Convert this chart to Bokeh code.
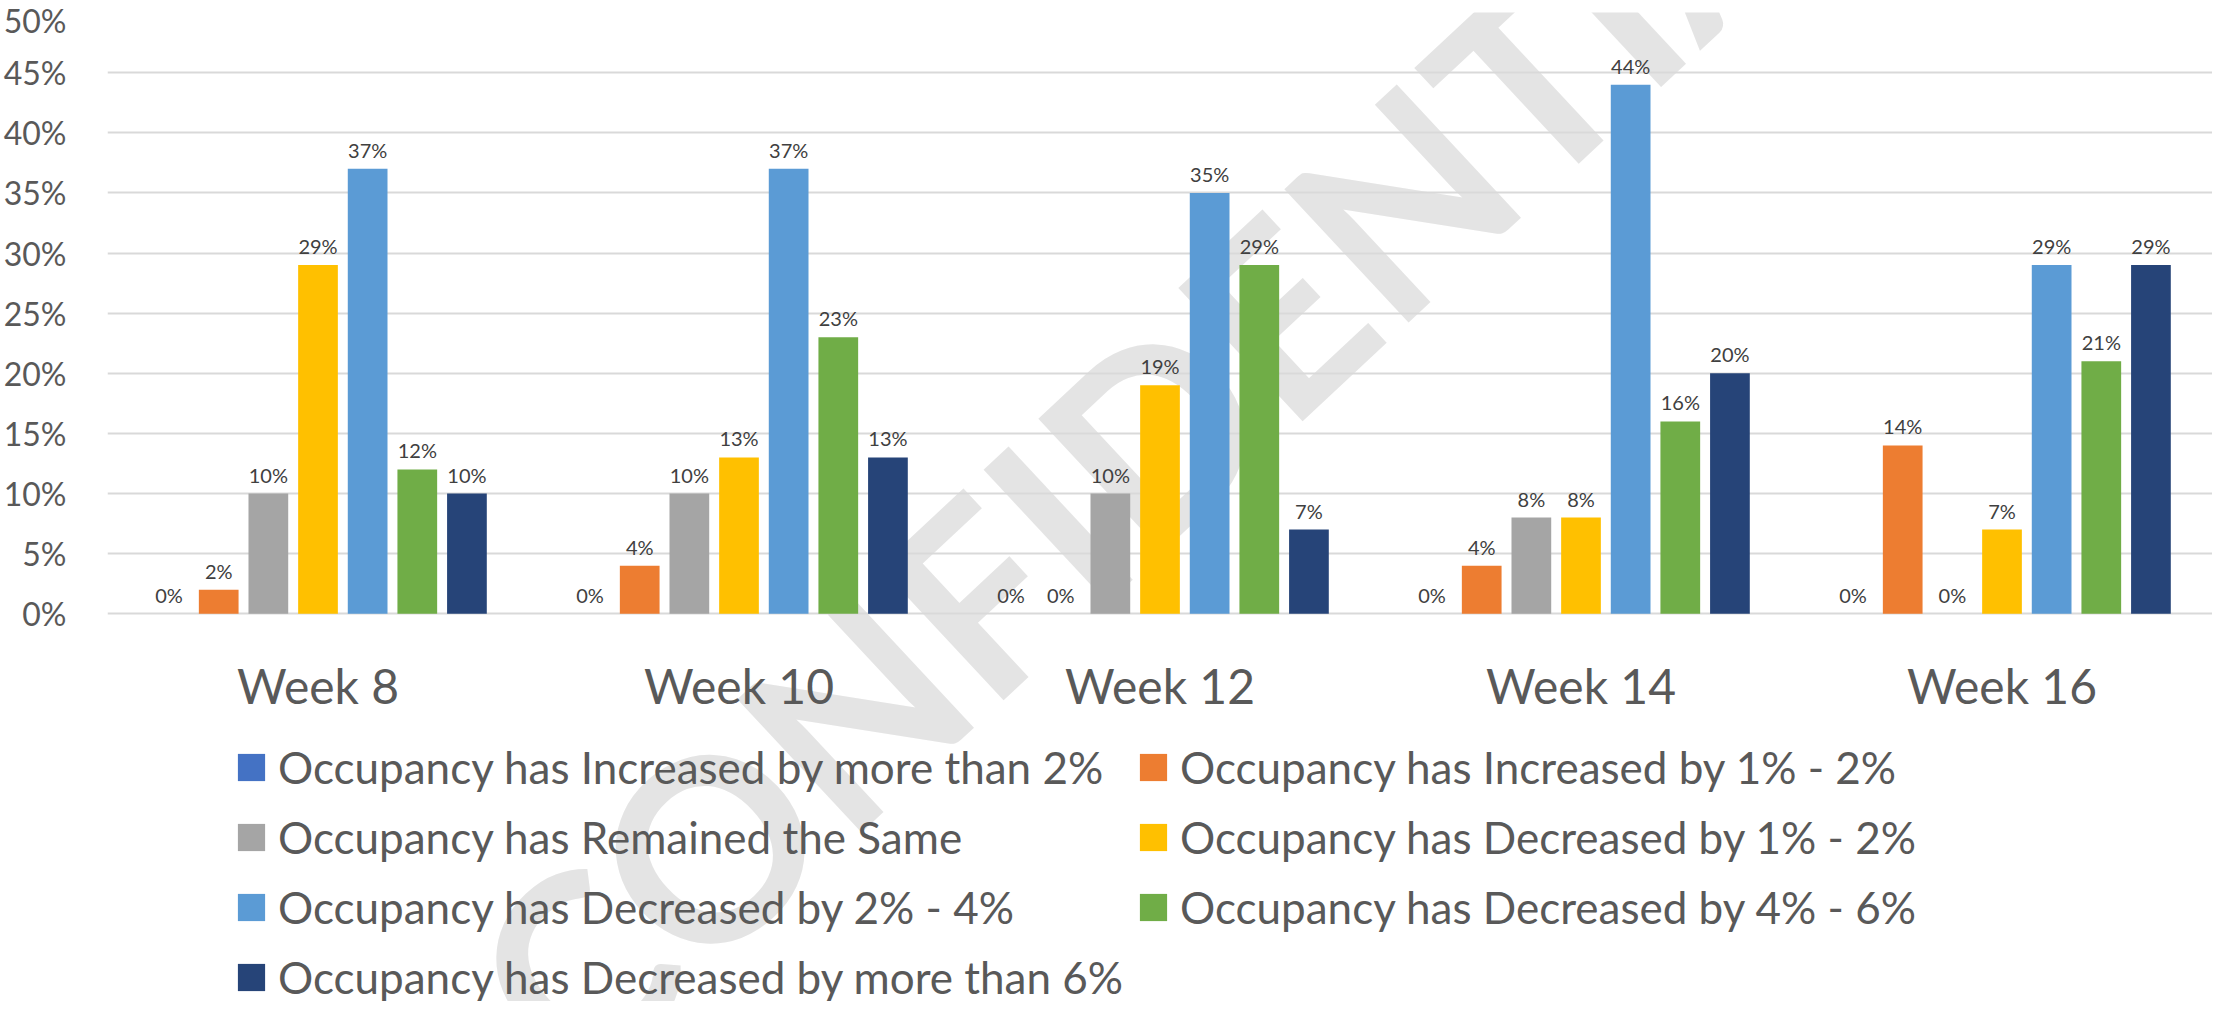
from bokeh.plotting import figure
from bokeh.models import (ColumnDataSource, FactorRange, Range1d, FixedTicker,
                          NumeralTickFormatter, Legend, LegendItem, Label)
from bokeh.transform import dodge
from bokeh.core.properties import value
from bokeh.embed import file_html
from bokeh.resources import INLINE

# ---------------- data ----------------
weeks = ["Week 8", "Week 10", "Week 12", "Week 14", "Week 16"]
series_names = [
    "Occupancy has Increased by more than 2%",
    "Occupancy has Increased by 1% - 2%",
    "Occupancy has Remained the Same",
    "Occupancy has Decreased by 1% - 2%",
    "Occupancy has Decreased by 2% - 4%",
    "Occupancy has Decreased by 4% - 6%",
    "Occupancy has Decreased by more than 6%",
]
increased_more_2 = [0, 0, 0, 0, 0]
increased_1_2 = [2, 4, 0, 4, 14]
remained_same = [10, 10, 10, 8, 0]
decreased_1_2 = [29, 13, 19, 8, 7]
decreased_2_4 = [37, 37, 35, 44, 29]
decreased_4_6 = [12, 23, 29, 16, 21]
decreased_more_6 = [10, 13, 7, 20, 29]
series_values = [increased_more_2, increased_1_2, remained_same, decreased_1_2,
                 decreased_2_4, decreased_4_6, decreased_more_6]
colors = ["#4472C4", "#ED7D31", "#A5A5A5", "#FFC000", "#5B9BD5", "#70AD47", "#264478"]
y_ticks = [0, 0.05, 0.10, 0.15, 0.20, 0.25, 0.30, 0.35, 0.40, 0.45, 0.50]

FONT = "Lato"
pitch = 50 / 424.0
bar_w = 40 / 424.0

# frame spans (almost) the full canvas height so that legend and watermark can sit
# in it; the value axis only labels 0%..50%, the category axis is pinned at 0
p = figure(width=2212, height=1001, output_backend="svg", toolbar_location=None,
           x_range=FactorRange(factors=weeks, range_padding=0, factor_padding=0),
           y_range=Range1d(-0.3224, 0.5), x_axis_location="above",
           min_border_left=99, min_border_right=0, min_border_top=12,
           min_border_bottom=0)
p.outline_line_color = None
p.background_fill_color = "white"
p.border_fill_color = "white"

# watermark
wm = Label(x=2.56, y=0.18, x_units="data", y_units="data", text="CONFIDENTIAL",
           angle=43, angle_units="deg", text_align="center", text_baseline="middle",
           text_font=FONT, text_font_style="bold", text_font_size="252px",
           text_color="#e4e4e4", level="image")
p.add_layout(wm)

items = []
for j, (name, vals, col) in enumerate(zip(series_names, series_values, colors)):
    off = (j - 3) * pitch
    src = ColumnDataSource(dict(week=weeks, top=[v / 100.0 for v in vals],
                                lab=["%d%%" % v for v in vals]))
    r = p.vbar(x=dodge("week", off, range=p.x_range), top="top", width=bar_w,
               source=src, fill_color=col, line_color=None)
    p.text(x=dodge("week", off, range=p.x_range), y="top", text="lab", source=src,
           text_align="center", text_baseline="alphabetic", y_offset=-19,
           text_font=value(FONT), text_font_size="20px", text_color="#404040")
    items.append(LegendItem(label=name, renderers=[r]))

# axes
p.ygrid.grid_line_color = "#d9d9d9"
p.ygrid.grid_line_width = 2
p.xgrid.grid_line_color = None
p.yaxis.ticker = FixedTicker(ticks=y_ticks)
p.yaxis.formatter = NumeralTickFormatter(format="0%")
for ax in (p.xaxis, p.yaxis):
    ax.axis_line_color = None
    ax.major_tick_line_color = None
    ax.minor_tick_line_color = None
    ax.major_label_text_font = FONT
    ax.major_label_text_color = "#595959"
p.yaxis.major_label_text_font_size = "32px"
p.yaxis.major_label_standoff = 35
p.xaxis.fixed_location = 0
p.xaxis.major_label_text_font_size = "48px"
p.xaxis.major_label_standoff = -106

def make_legend(its, vx, vy):
    return Legend(items=its, location=(vx, vy), orientation="vertical",
                  label_text_font=FONT, label_text_font_size="44px",
                  label_text_color="#595959", glyph_width=34, glyph_height=34,
                  label_height=53, spacing=17, padding=0, margin=0,
                  label_standoff=10, border_line_color=None,
                  background_fill_alpha=0)

col1 = [items[0], items[2], items[4], items[6]]
col2 = [items[1], items[3], items[5]]
p.add_layout(make_legend(col1, 127, -2), "center")
p.add_layout(make_legend(col2, 1029, 68), "center")

open("out.html", "w").write(file_html(p, INLINE))
